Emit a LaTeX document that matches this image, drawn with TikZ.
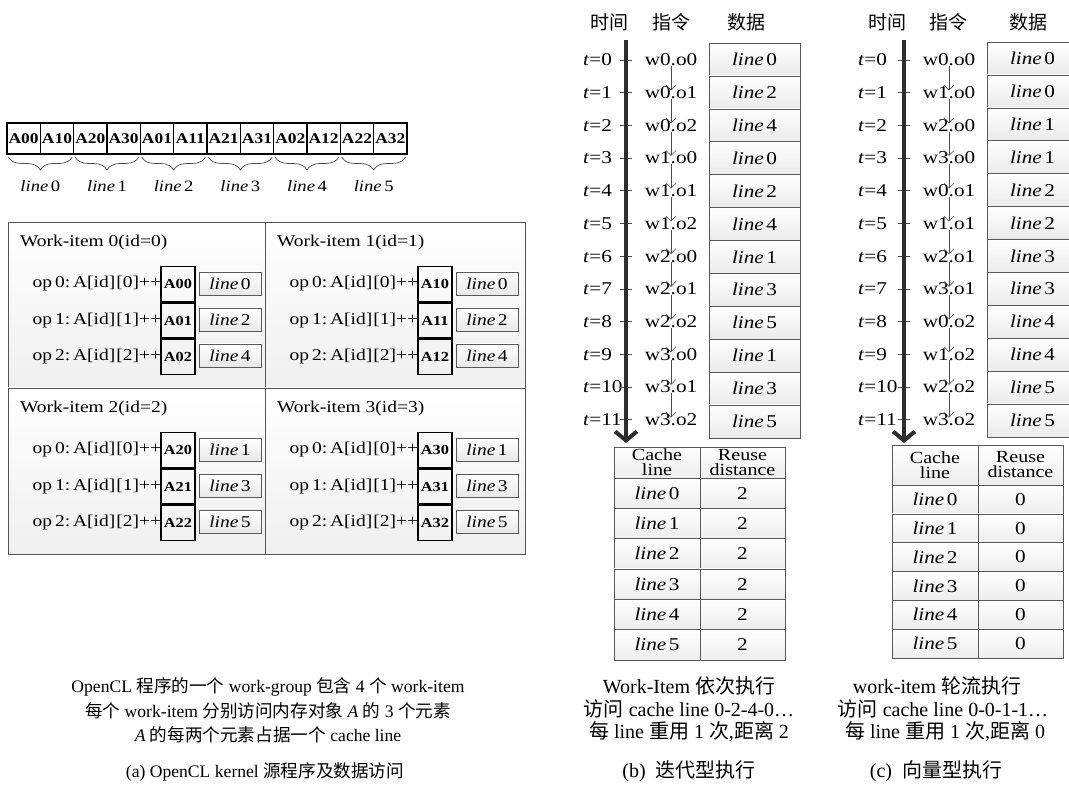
\documentclass[tikz,border=0pt]{standalone}
\usepackage{fontspec}
\setmainfont{Liberation Serif}
\newfontfamily\dg{Liberation Serif}[FakeStretch=1.18]
\newfontfamily\cjk{Noto Sans CJK SC}
\usetikzlibrary{arrows.meta,decorations.pathreplacing,calc}
\newcommand\myline[1]{\textit{line}\hspace{2.5pt}#1}
\newcommand\zh[1]{{\cjk #1}}
\begin{document}
\begin{tikzpicture}[x=1pt,y=-1pt,
  every node/.style={inner sep=0pt, outer sep=0pt},
  dfont/.style={font=\dg\fontsize{16.5}{18}\selectfont},
  rfont/.style={font=\dg\fontsize{18}{20}\selectfont},
  arr/.style={draw=black, line width=1.3pt, minimum width=33.33pt, minimum height=31pt, font=\dg\bfseries\fontsize{14.8}{16}\selectfont},
  bracestyle/.style={decorate, decoration={brace, mirror, amplitude=13pt}, draw=gray!60!black, line width=0.7pt},
  cellbox/.style={draw=gray!65!black, line width=0.8pt, top color=white, bottom color=gray!12, anchor=north west},
  abox/.style={draw=black, line width=1.4pt, minimum width=34pt, minimum height=35pt, font=\dg\bfseries\fontsize{13.8}{15}\selectfont},
  lbox/.style={draw=gray!70!black, line width=0.6pt, top color=white, bottom color=gray!18, minimum width=62pt, minimum height=23pt, dfont},
  dbox/.style={draw=gray!70!black, line width=0.6pt, top color=white, bottom color=gray!16, minimum width=91pt, minimum height=32.9pt, rfont},
  tcell/.style={draw=gray!70!black, line width=0.6pt, top color=white, bottom color=gray!14, rfont},
  thead/.style={tcell, align=center, font=\dg\fontsize{17}{15}\selectfont},
  hfont/.style={font=\cjk\fontsize{19}{19}\selectfont},
  taxis/.style={draw=gray!35!black, line width=4pt, -{Straight Barb[length=9pt,width=22pt]}},
  tick/.style={draw=gray!60!black, line width=0.7pt},
  insarr/.style={draw=gray!60!black, line width=0.6pt, -{Straight Barb[length=5pt,width=10pt]}},
  captext/.style={font=\fontsize{17.6}{19}\selectfont},
  capbig/.style={font=\fontsize{20}{22}\selectfont}
]
\useasboundingbox (0,0) rectangle (1069,794);

% ---------------- (a) array ----------------
\foreach \lab [count=\i from 0] in {A00,A10,A20,A30,A01,A11,A21,A31,A02,A12,A22,A32}
  \node[arr] (e\i) at ({7+33.33*(\i+0.5)},138.5) {\lab};
\foreach \k in {0,...,5} {
  \pgfmathtruncatemacro\a{2*\k}
  \pgfmathtruncatemacro\b{2*\k+1}
  \draw[bracestyle] ([xshift=1.5pt,yshift=-3pt]e\a.south west) -- ([xshift=-1.5pt,yshift=-3pt]e\b.south east);
  \node[font=\dg\fontsize{15.8}{17}\selectfont] (bl\k) at ({7+66.67*(\k+0.5)},186) {\myline{\k}};
}

% ---------------- (a) work-items ----------------
\node[cellbox, minimum width=257pt, minimum height=166pt] (w0) at (8,222) {};
\node[cellbox, minimum width=260pt, minimum height=166pt] (w1) at (265,222) {};
\node[cellbox, minimum width=257pt, minimum height=166pt] (w2) at (8,388) {};
\node[cellbox, minimum width=260pt, minimum height=166pt] (w3) at (265,388) {};
\foreach \c/\cx/\cy/\la/\lb/\lc in {0/8/222/0/2/4, 1/265/222/0/2/4, 2/8/388/1/3/5, 3/265/388/1/3/5} {
  \node[dfont, anchor=west] (t\c) at (\cx+12,\cy+21) {Work-item \c(id=\c)};
  \foreach \r/\l in {0/\la,1/\lb,2/\lc} {
    \node[abox] (a\c\r) at (\cx+170, \cy+62+36.5*\r) {A\c\r};
    \node[dfont, anchor=east] (o\c\r) at (a\c\r.west) {op\hspace{3pt}\r:\hspace{3pt}A[id]\hspace{1pt}[\r]++};
    \node[lbox] (l\c\r) at (\cx+222, \cy+61.5+36*\r) {\myline{\l}};
  }
}

% ---------------- (b) ----------------
\node[hfont] (bh1) at (609,22) {时间};
\node[hfont] (bh2) at (671,22) {指令};
\node[hfont] (bh3) at (746,22) {数据};
\coordinate (ba) at (626,40);
\coordinate (bz) at (626,443);
\foreach \ins/\dl [count=\k from 0] in {w0.o0/0, w0.o1/2, w0.o2/4, w1.o0/0, w1.o1/2, w1.o2/4, w2.o0/1, w2.o1/3, w2.o2/5, w3.o0/1, w3.o1/3, w3.o2/5} {
  \node[rfont, anchor=west] (bt\k) at (583, 60+32.7*\k) {\textit{t}=\k};
  \draw[tick] (620, 60+32.7*\k) -- (632, 60+32.7*\k);
  \node[rfont] (bi\k) at (671, 60+32.7*\k) {\ins};
  \node[dbox] (bd\k) at (754.5, 59.5+32.9*\k) {\myline{\dl}};
}
\draw[taxis] (ba) -- (bz);
\foreach \k in {0,...,10} {
  \pgfmathtruncatemacro\j{\k+1}
  \draw[insarr] (bi\k.south) -- ([yshift=-4pt]bi\j.north);
}
\node[thead, minimum width=86pt, minimum height=31pt] (bc0) at (657,462.5) {Cache\\line};
\node[thead, minimum width=85pt, minimum height=31pt] (bc1) at (742.5,462.5) {Reuse\\distance};
\foreach \k in {0,...,5} {
  \node[tcell, minimum width=86pt, minimum height=30.33pt] (br\k) at (657, 478+30.33*\k+15.17) {\myline{\k}};
  \node[tcell, minimum width=85pt, minimum height=30.33pt] (bv\k) at (742.5, 478+30.33*\k+15.17) {2};
}

% ---------------- (c) ----------------
\node[hfont] (ch1) at (887,22) {时间};
\node[hfont] (ch2) at (948,22) {指令};
\node[hfont] (ch3) at (1028,22) {数据};
\coordinate (ca) at (904,40);
\coordinate (cz) at (904,443);
\foreach \ins/\dl [count=\k from 0] in {w0.o0/0, w1.o0/0, w2.o0/1, w3.o0/1, w0.o1/2, w1.o1/2, w2.o1/3, w3.o1/3, w0.o2/4, w1.o2/4, w2.o2/5, w3.o2/5} {
  \node[rfont, anchor=west] (ct\k) at (858, 60+32.7*\k) {\textit{t}=\k};
  \draw[tick] (898, 60+32.7*\k) -- (910, 60+32.7*\k);
  \node[rfont] (ci\k) at (949, 60+32.7*\k) {\ins};
  \node[dbox] (cd\k) at (1032.5, 58.5+32.9*\k) {\myline{\dl}};
}
\draw[taxis] (ca) -- (cz);
\foreach \k in {0,...,10} {
  \pgfmathtruncatemacro\j{\k+1}
  \draw[insarr] (ci\k.south) -- ([yshift=-4pt]ci\j.north);
}
\node[thead, minimum width=86pt, minimum height=40pt] (cc0) at (935,465) {Cache\\line};
\node[thead, minimum width=85pt, minimum height=40pt] (cc1) at (1020.5,465) {Reuse\\distance};
\foreach \k in {0,...,5} {
  \node[tcell, minimum width=86pt, minimum height=28.83pt] (cr\k) at (935, 485+28.83*\k+14.42) {\myline{\k}};
  \node[tcell, minimum width=85pt, minimum height=28.83pt] (cv\k) at (1020.5, 485+28.83*\k+14.42) {0};
}

% ---------------- captions ----------------
\node[captext] (pa1) at (268,687) {OpenCL \zh{程序的一个} work-group \zh{包含} 4 \zh{个} work-item};
\node[captext] (pa2) at (268,711) {\zh{每个} work-item \zh{分别访问内存对象} \textit{A} \zh{的} 3 \zh{个元素}};
\node[captext] (pa3) at (268,735) {\textit{A} \zh{的每两个元素占据一个} cache line};
\node[captext] (pa4) at (265,772) {(a) OpenCL kernel \zh{源程序及数据访问}};

\node[capbig] (pb1) at (689,686) {Work-Item \zh{依次执行}};
\node[capbig] (pb2) at (689,709) {\zh{访问} cache line 0-2-4-0…};
\node[capbig] (pb3) at (689,732) {\zh{每} line \zh{重用} 1 \zh{次},\zh{距离} 2};
\node[capbig] (pb4) at (689,771) {(b)\ \ \zh{迭代型执行}};

\node[capbig] (pc1) at (937,686) {work-item \zh{轮流执行}};
\node[capbig] (pc2) at (943,709) {\zh{访问} cache line 0-0-1-1…};
\node[capbig] (pc3) at (945,732) {\zh{每} line \zh{重用} 1 \zh{次},\zh{距离} 0};
\node[capbig] (pc4) at (936,771) {(c)\ \ \zh{向量型执行}};
\end{tikzpicture}
\end{document}
